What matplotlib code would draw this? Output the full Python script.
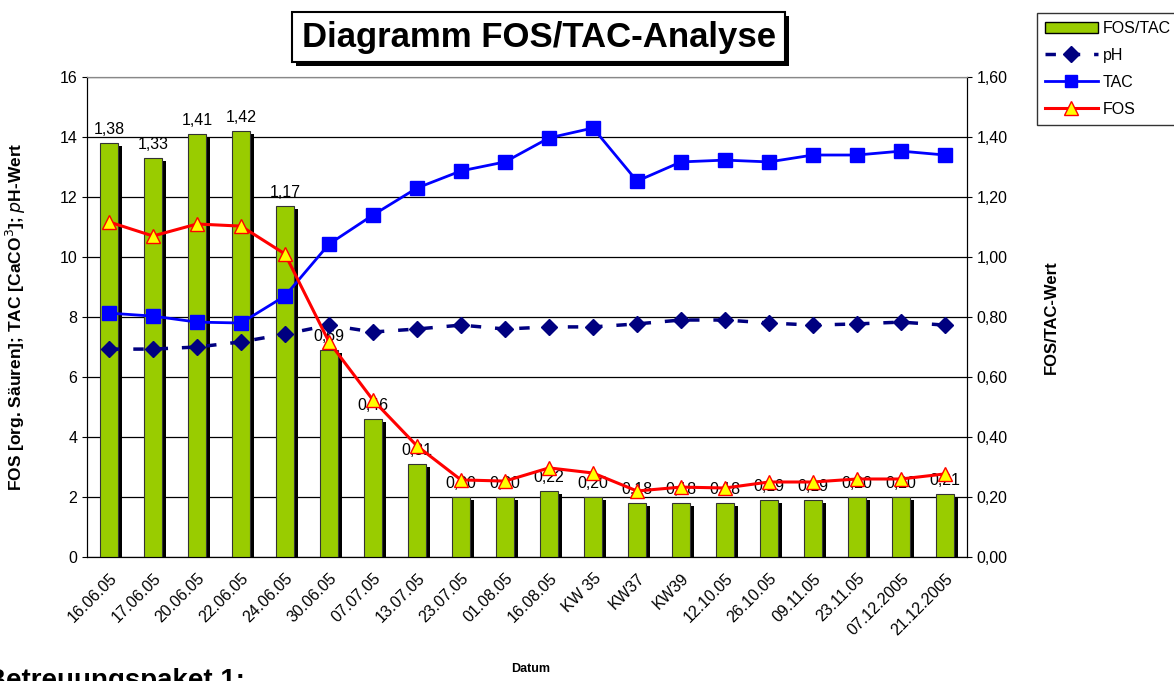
import matplotlib
matplotlib.use("Agg")
import matplotlib.pyplot as plt
import matplotlib.transforms as mtransforms
from matplotlib.patches import Rectangle, Patch
from matplotlib.lines import Line2D
import numpy as np

plt.rcParams['font.family'] = ['Liberation Sans', 'DejaVu Sans']

dates = ["16.06.05", "17.06.05", "20.06.05", "22.06.05", "24.06.05", "30.06.05",
         "07.07.05", "13.07.05", "23.07.05", "01.08.05", "16.08.05", "KW 35",
         "KW37", "KW39", "12.10.05", "26.10.05", "09.11.05", "23.11.05",
         "07.12.2005", "21.12.2005"]
fos_tac = [1.38, 1.33, 1.41, 1.42, 1.17, 0.69, 0.46, 0.31, 0.20, 0.20,
           0.22, 0.20, 0.18, 0.18, 0.18, 0.19, 0.19, 0.20, 0.20, 0.21]
ph = [6.93, 6.93, 7.0, 7.17, 7.43, 7.73, 7.5, 7.6, 7.73, 7.6,
      7.67, 7.67, 7.77, 7.9, 7.9, 7.8, 7.73, 7.77, 7.83, 7.73]
tac = [8.13, 8.03, 7.83, 7.8, 8.7, 10.43, 11.4, 12.3, 12.87, 13.17,
       13.97, 14.3, 12.53, 13.17, 13.23, 13.17, 13.4, 13.4, 13.53, 13.4]
fos = [11.17, 10.7, 11.1, 11.03, 10.1, 7.17, 5.23, 3.7, 2.57, 2.53,
       2.97, 2.8, 2.2, 2.33, 2.3, 2.5, 2.5, 2.6, 2.6, 2.77]

green = "#99CC00"
navy = "#000080"

fig = plt.figure(figsize=(11.74, 6.81), dpi=100)
ax = fig.add_axes([0.0741, 0.1821, 0.7496, 0.7048])
ax2 = ax.twinx()
ax.set_zorder(ax2.get_zorder() + 1)
ax.patch.set_visible(False)

x = np.arange(len(dates))

# bars on right axis, with shadow
shadow = mtransforms.offset_copy(ax2.transData, fig=fig, x=4, y=-3, units='dots')
ax2.bar(x, fos_tac, width=0.4, color="black", transform=shadow, zorder=2)
ax2.bar(x, fos_tac, width=0.4, color=green, edgecolor="#333333", linewidth=0.8, zorder=3)
for xi, v in zip(x, fos_tac):
    ax2.annotate(f"{v:.2f}".replace(".", ","), (xi, v), xytext=(0, 4),
                 textcoords="offset points", ha="center", va="bottom",
                 fontsize=11.5, zorder=6)
ax2.set_ylim(0, 1.6)
ax2.set_yticks(np.arange(0, 1.61, 0.2))
ax2.set_yticklabels([f"{t:.2f}".replace(".", ",") for t in np.arange(0, 1.61, 0.2)],
                    fontsize=11.5)
ax2.yaxis.grid(True, color="black", linewidth=0.9)
ax2.set_axisbelow(True)
ax2.set_ylabel("FOS/TAC-Wert", fontsize=12, fontweight="bold")
ax2.yaxis.set_label_coords(1.0875, 0.5)

# lines on left axis
ax.plot(x, ph, color=navy, linestyle=(0, (3, 4)), linewidth=2.5, marker="D",
        markersize=8, markerfacecolor=navy, markeredgecolor=navy)
ax.plot(x, tac, color="#0000FF", linewidth=2, marker="s", markersize=9.5,
        markerfacecolor="#0000FF", markeredgecolor="#0000FF")
ax.plot(x, fos, color="#FF0000", linewidth=2.2, marker="^", markersize=10,
        markerfacecolor="#FFFF00", markeredgecolor="#FF0000", markeredgewidth=1)
ax.set_ylim(0, 16)
ax.set_yticks(range(0, 17, 2))
ax.tick_params(axis="y", labelsize=11.5)
ax.set_ylabel("FOS [org. Säuren]; TAC [CaCO$^3$]; $p$H-Wert", fontsize=12.5,
              fontweight="bold")
ax.yaxis.set_label_coords(-0.067, 0.5)
ax.set_xlim(-0.5, len(dates) - 0.5)
ax.set_xticks(np.arange(-0.5, len(dates), 1.0))
ax.set_xticklabels([])
ax.set_xticks(x, minor=True)
ax.set_xticklabels(dates, minor=True, rotation=45, ha="right",
                   rotation_mode="anchor", fontsize=11.5)
ax.tick_params(axis="x", which="minor", length=0, pad=10)
ax.tick_params(axis="x", which="major", length=5)
ax2.set_xticks([])
for s in ["top"]:
    ax.spines[s].set_color("#888888")
    ax2.spines[s].set_color("#888888")

fig.text(0.4523, 0.013, "Datum", fontsize=9, fontweight="bold", ha="center")
fig.text(0.209, 0.0, "Betreuungspaket 1:", fontsize=20, fontweight="bold",
         ha="right", va="center")

# title box with shadow
fig.patches.append(Rectangle((296 / 1174, 1 - 66 / 681), 493 / 1174, 50 / 681,
                             transform=fig.transFigure, facecolor="black",
                             edgecolor="none", zorder=1))
fig.patches.append(Rectangle((292 / 1174, 1 - 62 / 681), 493 / 1174, 50 / 681,
                             transform=fig.transFigure, facecolor="white",
                             edgecolor="black", linewidth=1.5, zorder=2))
fig.text(539 / 1174, 1 - 38 / 681, "Diagramm FOS/TAC-Analyse", fontsize=25,
         fontweight="bold", ha="center", va="center", zorder=3)

handles = [
    Patch(facecolor=green, edgecolor="black", label="FOS/TAC"),
    Line2D([], [], color=navy, linestyle=(0, (3, 4)), linewidth=2.5, marker="D",
           markersize=8, label="pH"),
    Line2D([], [], color="#0000FF", linewidth=2, marker="s", markersize=9, label="TAC"),
    Line2D([], [], color="#FF0000", linewidth=2.2, marker="^", markersize=10,
           markerfacecolor="#FFFF00", markeredgecolor="#FF0000", label="FOS"),
]
leg = fig.legend(handles=handles, loc="upper left",
                 bbox_to_anchor=(1037 / 1174, 1 - 13 / 681), fontsize=11.5,
                 frameon=True, fancybox=False, edgecolor="black", borderpad=0.5,
                 handlelength=3.3, labelspacing=0.75, handletextpad=0.3,
                 borderaxespad=0)
leg.get_frame().set_linewidth(1)

fig.savefig("out.png", dpi=100)
